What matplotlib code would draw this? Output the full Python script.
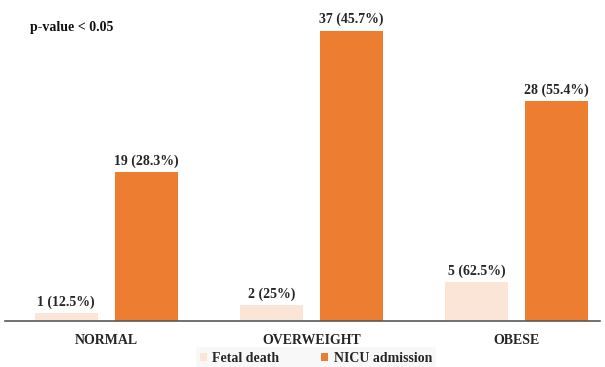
import matplotlib
matplotlib.use("Agg")
import matplotlib.pyplot as plt
import numpy as np

categories = ["NORMAL", "OVERWEIGHT", "OBESE"]
fetal_death = [1, 2, 5]
nicu_admission = [19, 37, 28]
fetal_labels = ["1 (12.5%)", "2 (25%)", "5 (62.5%)"]
nicu_labels = ["19 (28.3%)", "37 (45.7%)", "28 (55.4%)"]

plt.rcParams["font.family"] = ["Liberation Serif", "DejaVu Serif"]
plt.rcParams["font.weight"] = "bold"

fig = plt.figure(figsize=(6.05, 3.67), dpi=100)
ax = fig.add_axes([5 / 605, 46 / 367, 595 / 605, 314 / 367])

x = np.arange(len(categories))
w = 0.307
off = 0.196
b1 = ax.bar(x - off, fetal_death, w, color="#FBE5D6", label="Fetal death")
b2 = ax.bar(x + off, nicu_admission, w, color="#ED7D31", label="NICU admission")

for bars, labels in [(b1, fetal_labels), (b2, nicu_labels)]:
    for rect, lab in zip(bars, labels):
        ax.annotate(lab, (rect.get_x() + rect.get_width() / 2, rect.get_height()),
                    xytext=(0, 3), textcoords="offset points", ha="center", va="bottom",
                    fontsize=10, fontweight="bold", color="#262626")

ax.set_xlim(-0.495, 2.407)
ax.set_ylim(0, 40)
ax.set_yticks([])
ax.set_xticks(x)
ax.set_xticklabels(categories, fontsize=10, fontweight="bold", color="#262626")
ax.tick_params(axis="x", length=0, pad=9)
for s in ["top", "right", "left"]:
    ax.spines[s].set_visible(False)
ax.spines["bottom"].set_color("#595959")
ax.spines["bottom"].set_linewidth(1.2)

fig.text(30 / 605, 1 - 27 / 367, "p-value < 0.05", fontsize=10, fontweight="bold",
         va="center", ha="left", color="#111111")

leg = fig.legend(loc="center", bbox_to_anchor=(316 / 605, 1 - 358 / 367), ncol=2,
                 frameon=True, fontsize=10, handlelength=0.5, handleheight=0.5,
                 handletextpad=0.4, columnspacing=3.0, borderpad=0.3)
leg.get_frame().set_facecolor("#F7F7F7")
leg.get_frame().set_edgecolor("none")
for t in leg.get_texts():
    t.set_color("#262626")

fig.savefig("out.png", dpi=100)
